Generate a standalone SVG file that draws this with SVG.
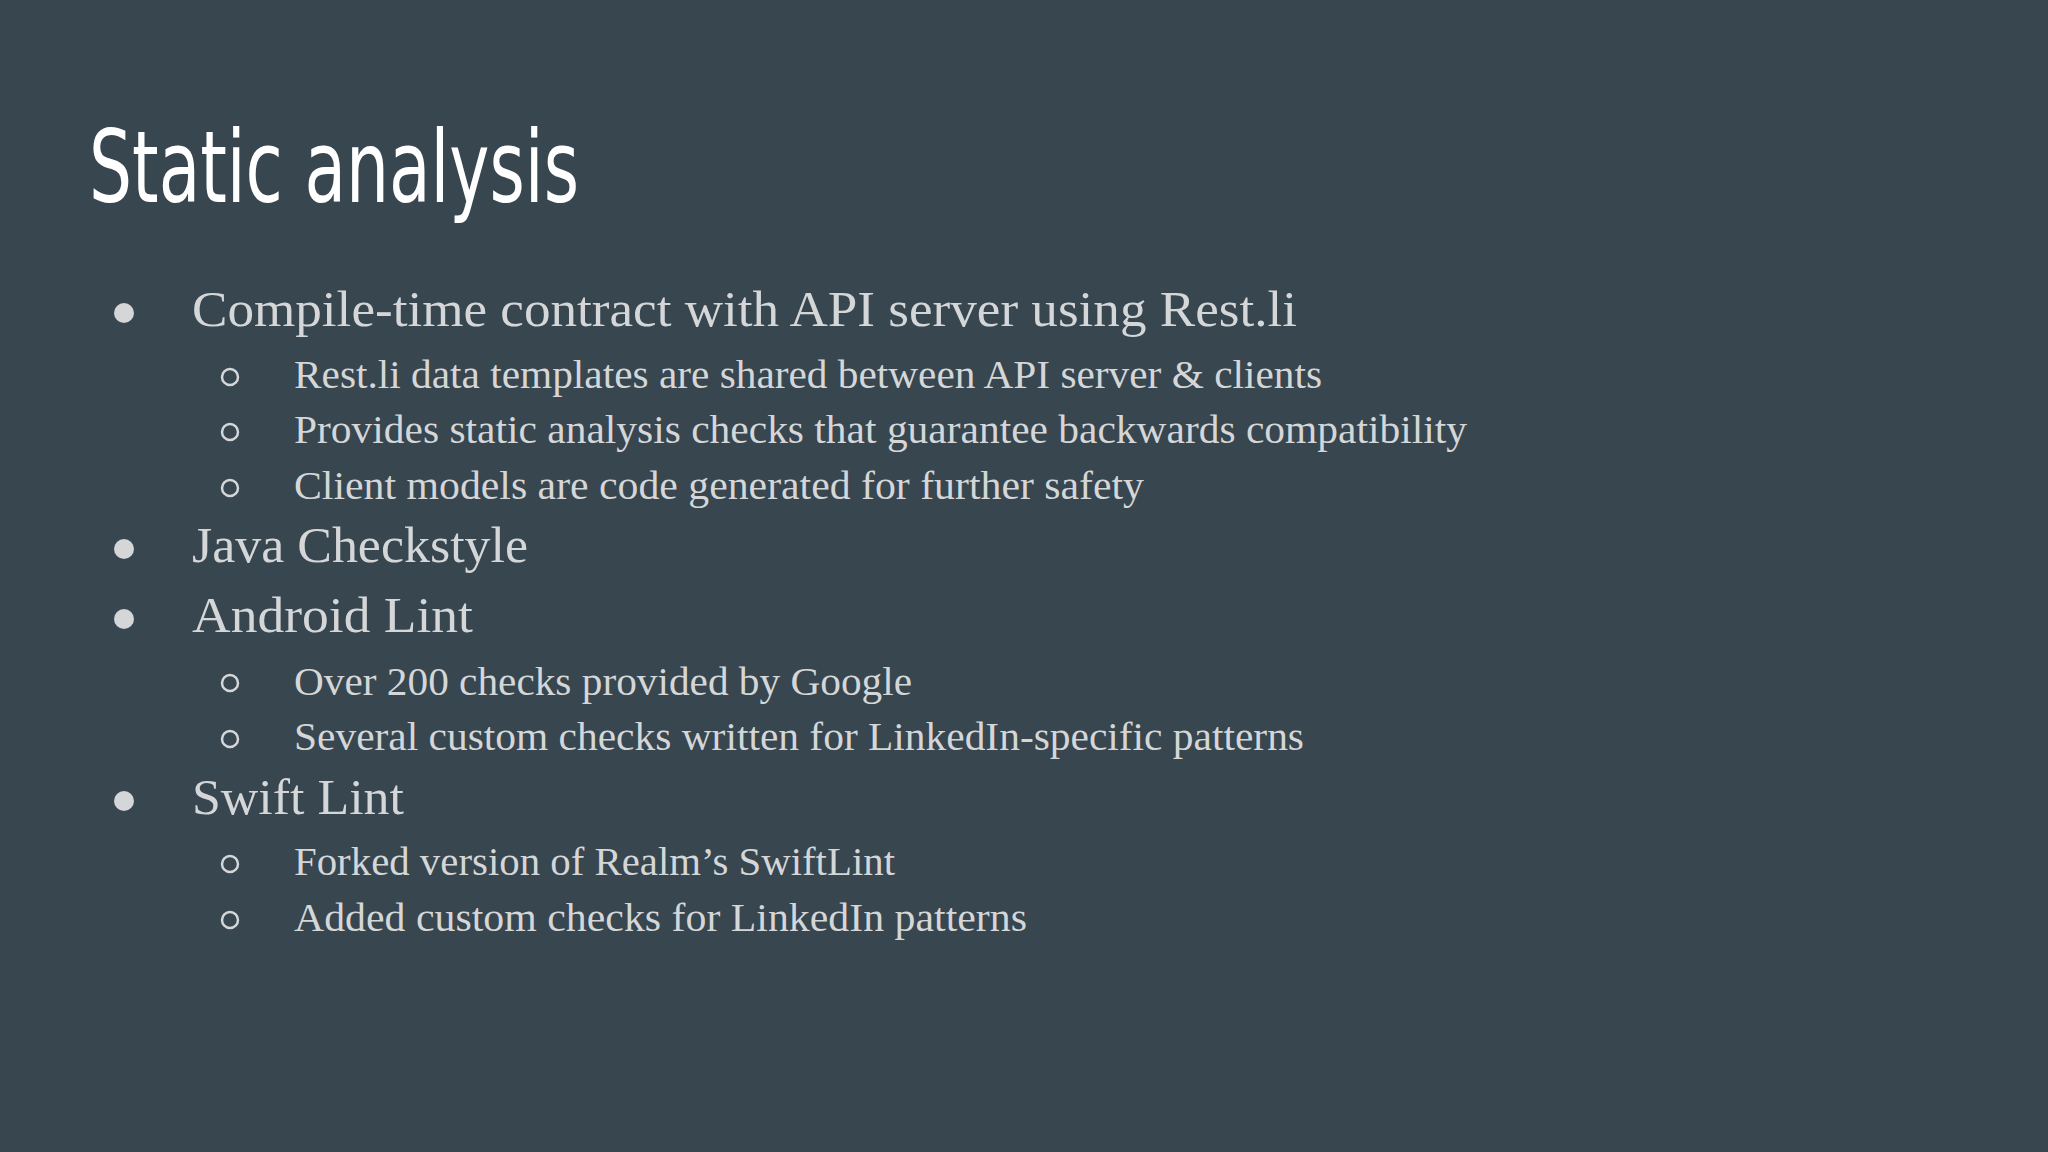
<svg xmlns="http://www.w3.org/2000/svg" width="2048" height="1152" viewBox="0 0 2048 1152">
<style>
.t{font-family:"Liberation Serif",serif;fill:#d4d6d8}
.l1{font-size:50px}
.l2{font-size:39px}
.b{fill:#d4d6d8}
.c{fill:none;stroke:#d4d6d8;stroke-width:2.5}
</style>
<rect width="2048" height="1152" fill="#37464f"/>
<text x="89" y="202" font-family="'DejaVu Sans Condensed','Liberation Sans',sans-serif" font-size="100" fill="#ffffff" textLength="490" lengthAdjust="spacingAndGlyphs">Static analysis</text>
<g id="bullets">
<circle class="b" cx="124" cy="313" r="10"/>
<circle class="b" cx="124" cy="549" r="10"/>
<circle class="b" cx="124" cy="619" r="10"/>
<circle class="b" cx="124" cy="801" r="10"/>
<circle class="c" cx="230" cy="377" r="8"/>
<circle class="c" cx="230" cy="432" r="8"/>
<circle class="c" cx="230" cy="488" r="8"/>
<circle class="c" cx="230" cy="683" r="8"/>
<circle class="c" cx="230" cy="739" r="8"/>
<circle class="c" cx="230" cy="864" r="8"/>
<circle class="c" cx="230" cy="920" r="8"/>
</g>
<g id="text">
<text class="t l1" x="192" y="326" textLength="1105" lengthAdjust="spacingAndGlyphs">Compile-time contract with API server using Rest.li</text>
<text class="t l2" x="294" y="388" textLength="1028" lengthAdjust="spacingAndGlyphs">Rest.li data templates are shared between API server &amp; clients</text>
<text class="t l2" x="294" y="443" textLength="1173" lengthAdjust="spacingAndGlyphs">Provides static analysis checks that guarantee backwards compatibility</text>
<text class="t l2" x="294" y="499" textLength="850" lengthAdjust="spacingAndGlyphs">Client models are code generated for further safety</text>
<text class="t l1" x="192" y="562" textLength="336" lengthAdjust="spacingAndGlyphs">Java Checkstyle</text>
<text class="t l1" x="192" y="632" textLength="281" lengthAdjust="spacingAndGlyphs">Android Lint</text>
<text class="t l2" x="294" y="695" textLength="618" lengthAdjust="spacingAndGlyphs">Over 200 checks provided by Google</text>
<text class="t l2" x="294" y="750" textLength="1010" lengthAdjust="spacingAndGlyphs">Several custom checks written for LinkedIn-specific patterns</text>
<text class="t l1" x="192" y="814" textLength="212" lengthAdjust="spacingAndGlyphs">Swift Lint</text>
<text class="t l2" x="294" y="875" textLength="601" lengthAdjust="spacingAndGlyphs">Forked version of Realm’s SwiftLint</text>
<text class="t l2" x="294" y="931" textLength="733" lengthAdjust="spacingAndGlyphs">Added custom checks for LinkedIn patterns</text>
</g>
</svg>
